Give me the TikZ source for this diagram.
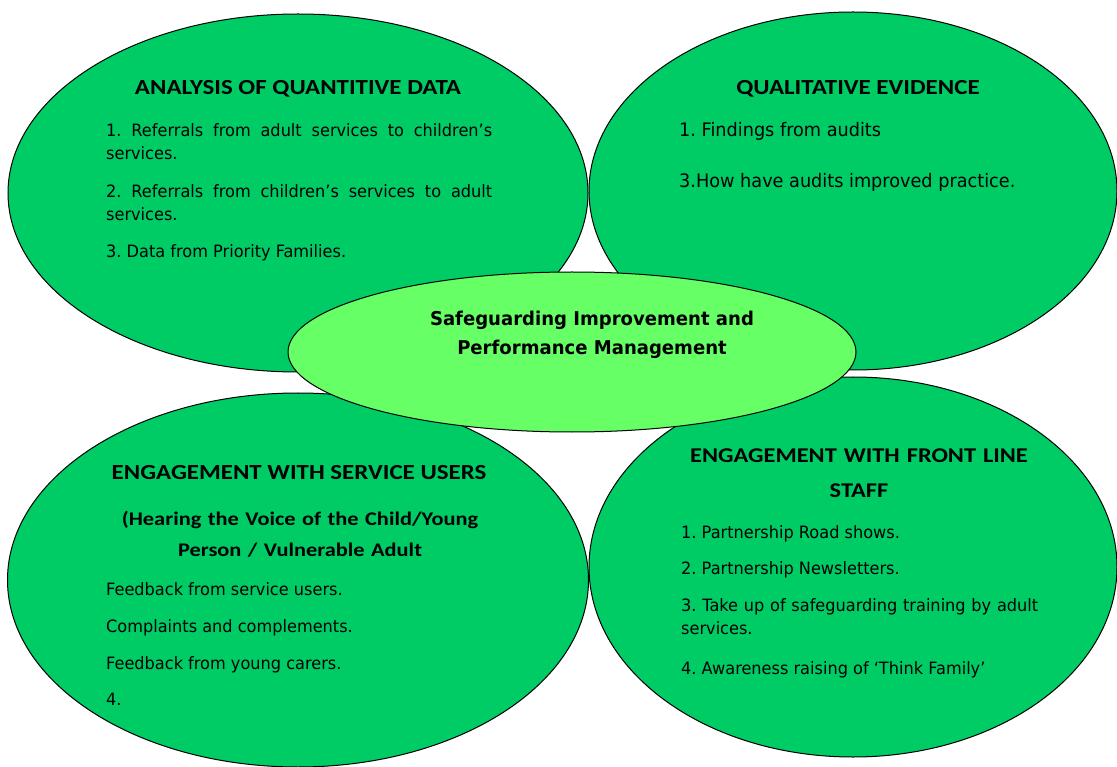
\documentclass[tikz,border=0pt]{standalone}
\usepackage{fontspec}
\setmainfont{DejaVu Sans}[FakeStretch=0.95]
\newfontfamily\headfont{Carlito}[FakeStretch=1.16]
\frenchspacing
\usetikzlibrary{positioning, shapes}
\definecolor{bubblegreen}{HTML}{00CC66}
\definecolor{hubgreen}{HTML}{66FF66}
\tikzset{
  bubble/.style={ellipse, draw, fill=bubblegreen, line width=1pt},
  heading/.style={font=\headfont\bfseries\fontsize{21.5}{24}\selectfont, anchor=base, inner sep=0pt},
  item/.style={font=\fontsize{17}{23}\selectfont, anchor=base west, inner sep=0pt},
}

\begin{document}
\begin{tikzpicture}[x=1pt, y=-1pt]
    \useasboundingbox (0,0) rectangle (1117,767);
    % Four outer bubbles
    \node[bubble, minimum width=580, minimum height=358] (quant) at (298,193) {};
    \node[bubble, minimum width=528, minimum height=358] (qual) at (853,191) {};
    \node[bubble, minimum width=581, minimum height=374] (users) at (298,580) {};
    \node[bubble, minimum width=528, minimum height=380] (staff) at (853,567) {};
    % Centre bubble
    \node[ellipse, draw, fill=hubgreen, line width=1pt, minimum width=568, minimum height=160] (hub) at (572,352) {};
    \node[font=\bfseries\fontsize{19}{29}\selectfont, text width=420, align=center, anchor=base, inner sep=0pt] (hubtext) at (592,326) {Safeguarding Improvement and\\Performance Management};

    % Quantitative data
    \node[heading] (quanthead) at (298,95) {ANALYSIS OF QUANTITIVE DATA};
    \node[item, text width=386, align=justify] (quant1) at (106,137) {1. Referrals from adult services to children’s\linebreak services.};
    \node[item, text width=386, align=justify] (quant2) at (106,198) {2. Referrals from children’s services to adult\linebreak services.};
    \node[item] (quant3) at (106,258) {3. Data from Priority Families.};

    % Qualitative evidence
    \node[heading] (qualhead) at (858,95) {QUALITATIVE EVIDENCE};
    \node[item, font=\fontsize{18.6}{23}\selectfont] (qual1) at (679,137) {1. Findings from audits};
    \node[item, font=\fontsize{18.6}{23}\selectfont] (qual2) at (679,188) {3.How have audits improved practice.};

    % Service users
    \node[heading] (usershead) at (299,479) {ENGAGEMENT WITH SERVICE USERS};
    \node[heading, text width=440, align=center, font=\headfont\bfseries\fontsize{19.3}{31}\selectfont] (userssub) at (300,525) {(Hearing the Voice of the Child/Young\\Person / Vulnerable Adult};
    \node[item] (users1) at (106,595) {Feedback from service users.};
    \node[item] (users2) at (106,632) {Complaints and complements.};
    \node[item] (users3) at (106,669) {Feedback from young carers.};
    \node[item] (users4) at (106,705) {4.};

    % Front line staff
    \node[heading, text width=420, align=center, font=\headfont\bfseries\fontsize{21}{35}\selectfont] (staffhead) at (859,462) {ENGAGEMENT WITH FRONT LINE\\STAFF};
    \node[item] (staff1) at (681,538) {1. Partnership Road shows.};
    \node[item] (staff2) at (681,574) {2. Partnership Newsletters.};
    \node[item, text width=357, align=justify] (staff3) at (681,611) {3. Take up of safeguarding training by adult\linebreak services.};
    \node[item] (staff4) at (681,674) {4. Awareness raising of ‘Think Family’};
\end{tikzpicture}
\end{document}
